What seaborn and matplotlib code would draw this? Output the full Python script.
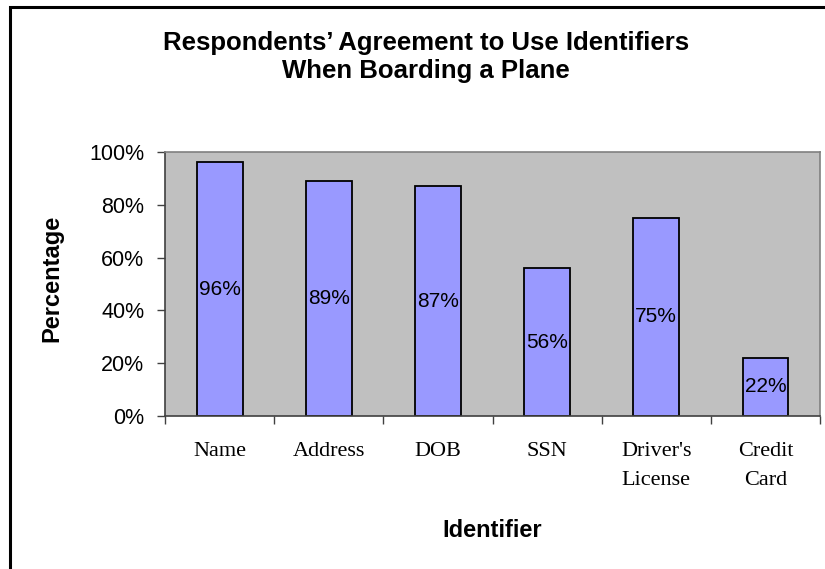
import matplotlib
matplotlib.use('Agg')
import matplotlib.pyplot as plt
from matplotlib.patches import Rectangle
from matplotlib.ticker import FixedLocator, PercentFormatter
import numpy as np
import pandas as pd
import seaborn as sns

# Data
identifiers = ["Name", "Address", "DOB", "SSN", "Driver's\nLicense", "Credit\nCard"]
agreement = [96, 89, 87, 56, 75, 22]
y_ticks = [0, 20, 40, 60, 80, 100]

df = pd.DataFrame({"Identifier": identifiers, "Percentage": agreement})

sns.set_theme(style="white")
plt.rcParams['font.family'] = ['Liberation Sans', 'DejaVu Sans']
plt.rcParams.update({'text.color': 'black', 'axes.labelcolor': 'black',
                     'xtick.labelcolor': 'black', 'ytick.labelcolor': 'black'})

fig = plt.figure(figsize=(8.25, 5.69), dpi=100)
ax = fig.add_axes([0.2, 0.269, 0.794, 0.464])
ax.set_facecolor('#C0C0C0')

sns.barplot(data=df, x="Identifier", y="Percentage", color='#9999FF',
            saturation=1, width=0.42, edgecolor='black', linewidth=1.3, ax=ax)

# labels in the middle of each bar, like Excel's "center" data labels
ax.bar_label(ax.containers[0], labels=[f"{v}%" for v in agreement],
             label_type='center', fontsize=15, color='black')

ax.set_ylim(0, 100)
ax.set_xlim(-0.5, len(identifiers) - 0.5)
ax.set_yticks(y_ticks)
ax.yaxis.set_major_formatter(PercentFormatter(decimals=0))
ax.tick_params(axis='y', labelsize=15.5, length=6, width=1, color='#404040',
               direction='out', left=True, pad=9)

# category labels centred, tick marks at the category boundaries
ax.set_xticks(np.arange(len(identifiers)))
ax.set_xticklabels(identifiers, family=['Liberation Serif'], fontsize=16,
                   linespacing=1.72, va='top')
ax.tick_params(axis='x', which='major', length=0, pad=19)
ax.xaxis.set_minor_locator(FixedLocator(np.arange(len(identifiers) + 1) - 0.5))
ax.tick_params(axis='x', which='minor', length=6, width=1, color='#404040',
               direction='out', bottom=True)

for side in ['top', 'right']:
    ax.spines[side].set_color('#808080')
    ax.spines[side].set_linewidth(1.2)
for side in ['left', 'bottom']:
    ax.spines[side].set_color('#404040')
    ax.spines[side].set_linewidth(1.2)

ax.set_ylabel("Percentage", fontsize=17, fontweight='bold')
ax.yaxis.set_label_coords(-0.155, 0.52)
ax.set_xlabel("Identifier", fontsize=17, fontweight='bold')
ax.xaxis.set_label_coords(0.5, -0.39)

fig.text(0.516, 1 - 50 / 569, "Respondents\u2019 Agreement to Use Identifiers",
         ha='center', va='baseline', fontsize=18.5, fontweight='bold')
fig.text(0.516, 1 - 78 / 569, "When Boarding a Plane",
         ha='center', va='baseline', fontsize=18.5, fontweight='bold')

# chart border (right/bottom edges fall outside the image)
top = 1 - 7 / 569
fig.patches.append(Rectangle((10 / 825, -0.05), 1.05, top + 0.05,
                             transform=fig.transFigure, fill=False,
                             edgecolor='black', linewidth=2.2))

fig.savefig("out.png", dpi=100, facecolor='white')
plt.close(fig)
